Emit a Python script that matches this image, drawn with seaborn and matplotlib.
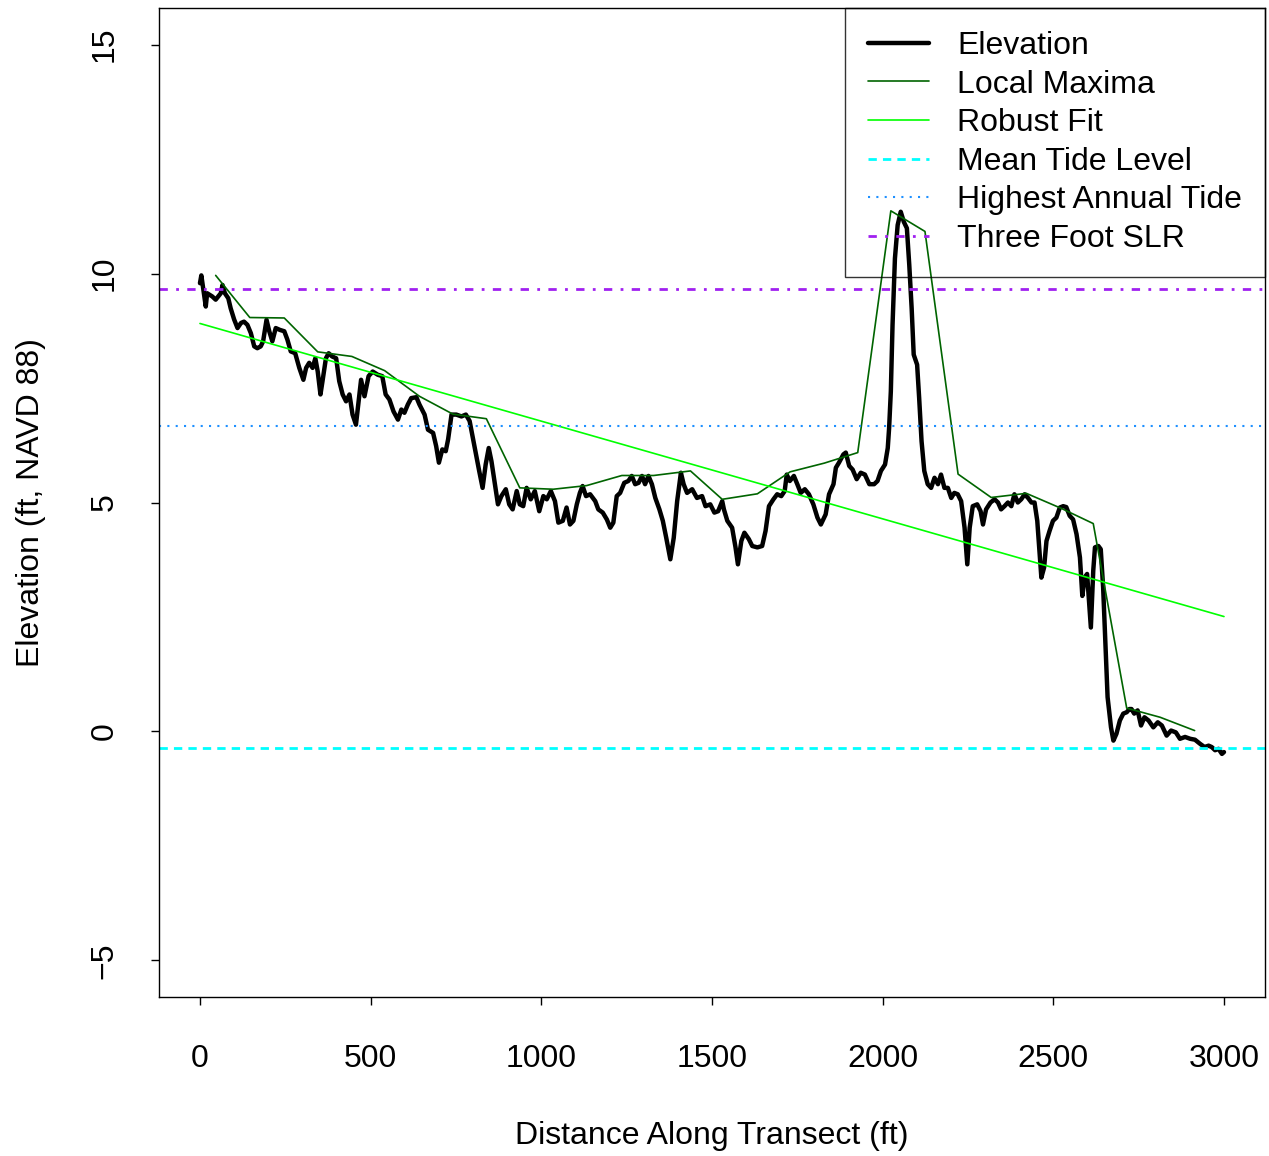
#! /usr/bin/env python3
"""
Transect elevation profile with local maxima, robust fit and tide levels.
"""

# Imports
import numpy as np
import pandas as pd
import matplotlib
matplotlib.use('Agg')
import matplotlib.pyplot as plt
import seaborn as sns

# Data: elevation along transect (ft, NAVD 88)
dist_ft = [0, 4, 17, 21, 36, 46, 61, 66, 73, 83, 90, 100, 110, 120, 129, 139, 149, 159, 168, 178,
           185, 195, 203, 212, 222, 234, 247, 256, 266, 279, 291, 303, 311, 320, 330, 338, 345, 353, 359, 369,
           377, 387, 399, 408, 418, 428, 438, 447, 457, 467, 472, 482, 494, 506, 521, 534, 544, 555, 567, 580,
           590, 599, 609, 619, 634, 643, 658, 668, 683, 692, 700, 710, 720, 727, 737, 751, 766, 779, 790, 805,
           818, 828, 837, 846, 854, 864, 873, 883, 896, 906, 916, 928, 937, 947, 957, 969, 981, 994, 1006, 1016,
           1028, 1040, 1050, 1063, 1074, 1084, 1094, 1104, 1113, 1121, 1131, 1143, 1158, 1167, 1180, 1192, 1202, 1211, 1221, 1231,
           1243, 1255, 1265, 1275, 1285, 1295, 1304, 1314, 1324, 1334, 1346, 1356, 1366, 1378, 1388, 1398, 1409, 1417, 1427, 1442,
           1456, 1471, 1481, 1495, 1507, 1518, 1530, 1535, 1545, 1559, 1569, 1576, 1586, 1595, 1608, 1618, 1633, 1647, 1657, 1667,
           1680, 1691, 1703, 1713, 1719, 1728, 1740, 1750, 1760, 1772, 1784, 1797, 1809, 1819, 1833, 1843, 1856, 1863, 1872, 1885,
           1892, 1902, 1912, 1924, 1936, 1948, 1961, 1975, 1985, 1995, 2007, 2015, 2019, 2024, 2029, 2036, 2044, 2053, 2062, 2071,
           2078, 2085, 2091, 2101, 2107, 2114, 2122, 2132, 2142, 2152, 2162, 2171, 2181, 2191, 2201, 2210, 2220, 2230, 2240, 2248,
           2255, 2264, 2277, 2287, 2294, 2303, 2316, 2328, 2338, 2347, 2357, 2367, 2377, 2386, 2396, 2406, 2416, 2426, 2436, 2445,
           2453, 2460, 2465, 2473, 2480, 2489, 2499, 2509, 2519, 2529, 2538, 2548, 2558, 2568, 2578, 2585, 2592, 2599, 2610, 2617,
           2622, 2632, 2639, 2646, 2653, 2659, 2669, 2676, 2685, 2695, 2705, 2715, 2723, 2729, 2737, 2747, 2757, 2767, 2779, 2793,
           2806, 2818, 2832, 2845, 2859, 2871, 2886, 2901, 2915, 2930, 2943, 2955, 2964, 2974, 2984, 2994, 3000]
elev_ft = [9.79, 9.96, 9.28, 9.57, 9.50, 9.43, 9.57, 9.75, 9.57, 9.46, 9.24, 9.00, 8.81, 8.92, 8.95, 8.88, 8.70, 8.41, 8.37, 8.41,
           8.52, 8.99, 8.74, 8.52, 8.81, 8.77, 8.74, 8.56, 8.30, 8.26, 7.94, 7.68, 7.94, 8.05, 7.94, 8.15, 7.86, 7.36, 7.65, 8.15,
           8.26, 8.19, 8.15, 7.65, 7.36, 7.21, 7.36, 6.92, 6.70, 7.36, 7.68, 7.32, 7.76, 7.86, 7.79, 7.76, 7.36, 7.25, 6.99, 6.81,
           7.03, 6.96, 7.14, 7.28, 7.30, 7.14, 6.92, 6.59, 6.52, 6.23, 5.87, 6.16, 6.12, 6.38, 6.92, 6.92, 6.88, 6.92, 6.78, 6.19,
           5.69, 5.32, 5.83, 6.19, 5.90, 5.40, 4.96, 5.14, 5.29, 4.96, 4.85, 5.25, 4.96, 4.92, 5.32, 5.07, 5.25, 4.81, 5.14, 5.07,
           5.25, 5.03, 4.56, 4.60, 4.89, 4.52, 4.60, 4.96, 5.21, 5.36, 5.14, 5.18, 5.03, 4.85, 4.78, 4.63, 4.45, 4.56, 5.14, 5.21,
           5.43, 5.47, 5.58, 5.40, 5.43, 5.58, 5.40, 5.58, 5.40, 5.10, 4.85, 4.60, 4.23, 3.76, 4.23, 5.03, 5.65, 5.40, 5.21, 5.29,
           5.10, 5.14, 4.92, 4.96, 4.78, 4.81, 5.03, 4.85, 4.60, 4.45, 4.02, 3.65, 4.16, 4.34, 4.20, 4.05, 4.02, 4.05, 4.38, 4.92,
           5.07, 5.18, 5.14, 5.25, 5.61, 5.47, 5.58, 5.40, 5.21, 5.29, 5.18, 4.96, 4.67, 4.52, 4.74, 5.18, 5.40, 5.76, 5.87, 6.05,
           6.09, 5.80, 5.72, 5.51, 5.65, 5.61, 5.40, 5.40, 5.47, 5.69, 5.83, 6.19, 6.63, 7.43, 8.88, 10.33, 11.06, 11.35, 11.13, 10.99,
           10.19, 9.24, 8.23, 8.01, 7.28, 6.34, 5.69, 5.40, 5.32, 5.54, 5.40, 5.61, 5.32, 5.32, 5.10, 5.21, 5.18, 5.03, 4.45, 3.65,
           4.45, 4.92, 4.96, 4.81, 4.52, 4.85, 5.00, 5.07, 5.00, 4.85, 4.92, 5.00, 4.92, 5.18, 5.00, 5.07, 5.18, 5.10, 5.00, 5.00,
           4.60, 3.87, 3.36, 3.58, 4.16, 4.38, 4.60, 4.67, 4.89, 4.92, 4.90, 4.71, 4.63, 4.31, 3.80, 2.96, 3.36, 3.44, 2.27, 3.51,
           4.02, 4.05, 3.98, 3.14, 1.84, 0.75, 0.09, -0.20, -0.05, 0.24, 0.39, 0.42, 0.49, 0.49, 0.39, 0.46, 0.13, 0.31, 0.24, 0.09,
           0.20, 0.13, -0.09, 0.02, -0.02, -0.16, -0.12, -0.16, -0.18, -0.27, -0.34, -0.31, -0.34, -0.41, -0.38, -0.49, -0.45]

# Local maxima per window
lmax_dist = [46, 146, 247, 345, 445, 541, 643, 741, 839, 937, 1035, 1133, 1236, 1329, 1437,
             1530, 1633, 1729, 1829, 1927, 2024, 2124, 2221, 2318, 2421, 2524, 2617, 2715, 2813, 2914]
lmax_elev = [9.96, 9.04, 9.03, 8.29, 8.19, 7.88, 7.32, 6.93, 6.83, 5.32, 5.29, 5.37, 5.59, 5.59, 5.69,
             5.07, 5.19, 5.67, 5.86, 6.09, 11.37, 10.92, 5.62, 5.11, 5.20, 4.87, 4.54, 0.51, 0.31, 0.02]

# Robust fit through local maxima (end points)
fit_dist = [0, 3000]
fit_elev = [8.91, 2.51]

# Tide levels (ft, NAVD 88)
mean_tide = -0.37
highest_annual_tide = 6.67
three_foot_slr = 9.67

legend_labels = ['Elevation', 'Local Maxima', 'Robust Fit', 'Mean Tide Level',
                 'Highest Annual Tide', 'Three Foot SLR']


def plot_transect():
    sns.set_style('white')
    plt.rcParams['font.family'] = ['Liberation Sans', 'DejaVu Sans']
    plt.rcParams['text.color'] = 'black'
    plt.rcParams['axes.labelcolor'] = 'black'
    fs = 23.0

    fig = plt.figure(figsize=(12.69, 11.56), dpi=100)
    ax = fig.add_axes([0.1253, 0.1375, 0.8715, 0.8556])

    elev_df = pd.DataFrame({'dist': dist_ft, 'elev': elev_ft})
    lmax_df = pd.DataFrame({'dist': lmax_dist, 'elev': lmax_elev})
    fit_df = pd.DataFrame({'dist': fit_dist, 'elev': fit_elev})

    sns.lineplot(ax=ax, data=elev_df, x='dist', y='elev', color='black', lw=3.2,
                 estimator=None, sort=False, label=legend_labels[0])
    sns.lineplot(ax=ax, data=lmax_df, x='dist', y='elev', color='#006400', lw=1.2,
                 estimator=None, sort=False, label=legend_labels[1])
    sns.lineplot(ax=ax, data=fit_df, x='dist', y='elev', color='#00FF00', lw=1.2,
                 estimator=None, sort=False, label=legend_labels[2])

    ax.axhline(mean_tide, color='#00FFFF', lw=2.0, linestyle=(0, (3, 2.2)), label=legend_labels[3])
    ax.axhline(highest_annual_tide, color='#1E90FF', lw=1.5, linestyle=(0, (1, 3)), label=legend_labels[4])
    ax.axhline(three_foot_slr, color='#A020F0', lw=2.0, linestyle=(0, (3, 3, 1, 3)), label=legend_labels[5])

    ax.set_xlim(-120, 3120)
    ax.set_ylim(-5.8, 15.8)
    ax.set_xticks([0, 500, 1000, 1500, 2000, 2500, 3000])
    ax.set_yticks([-5, 0, 5, 10, 15])
    ax.set_yticklabels(['\u22125', '0', '5', '10', '15'], rotation=90, va='center')
    ax.tick_params(axis='both', direction='out', length=6, width=1.0, labelsize=fs,
                   color='black', labelcolor='black', bottom=True, left=True)
    ax.tick_params(axis='x', pad=28)
    ax.tick_params(axis='y', pad=22.5)
    for sp in ax.spines.values():
        sp.set_visible(True)
        sp.set_color('black')
        sp.set_linewidth(1.0)

    ax.set_xlabel('Distance Along Transect (ft)', fontsize=fs, labelpad=33.5, color='black')
    ax.set_ylabel('Elevation (ft, NAVD 88)', fontsize=fs, labelpad=31, color='black')

    handles, labels = ax.get_legend_handles_labels()
    leg = ax.legend(handles, labels, loc='upper right', fontsize=fs, frameon=True,
                    fancybox=False, edgecolor='black', facecolor='none', framealpha=None,
                    borderaxespad=0, handlelength=1.9, handletextpad=0.88,
                    labelspacing=0.27, borderpad=0.72)
    leg.get_frame().set_linewidth(1.0)
    for txt in leg.get_texts():
        txt.set_color('black')

    return fig


if __name__ == '__main__':
    fig = plot_transect()
    fig.savefig('out.png', dpi=100)
